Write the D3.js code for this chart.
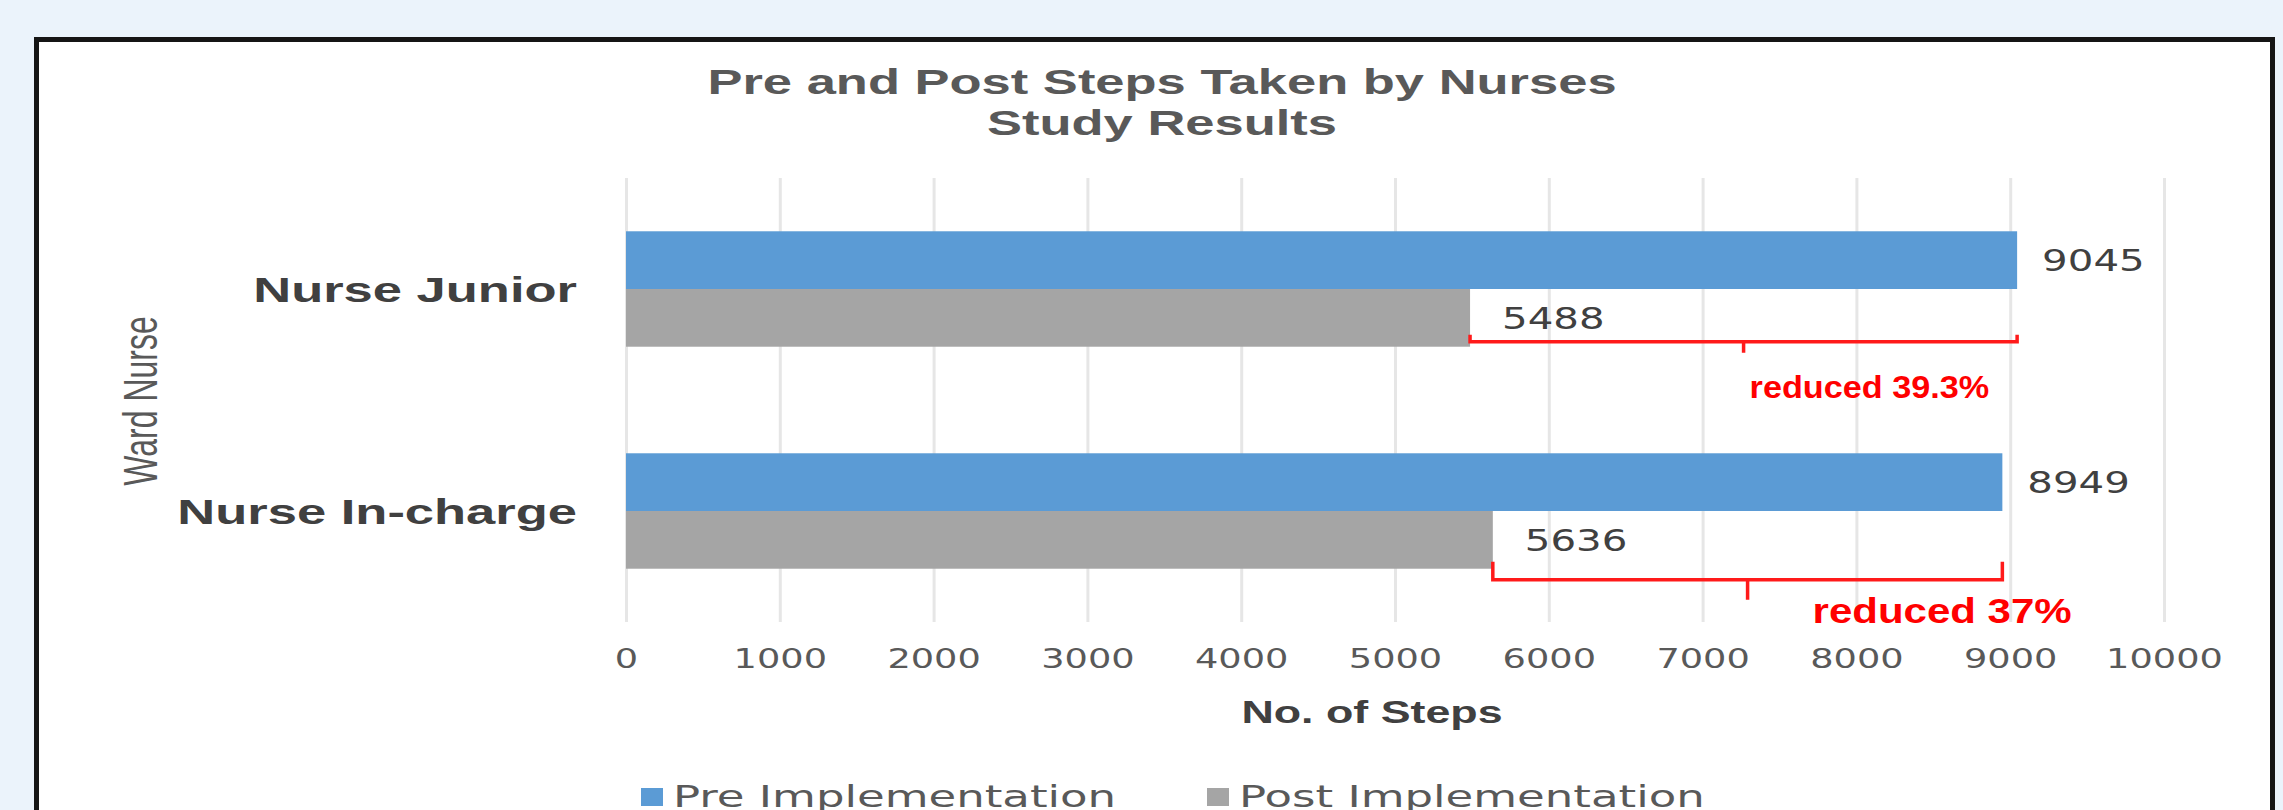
<!DOCTYPE html>
<html>
<head>
<meta charset="utf-8">
<script src="https://cdn.jsdelivr.net/npm/d3@7"></script>
<style>
  html, body { margin: 0; padding: 0; background: #ebf3fb; }
  svg { display: block; }
</style>
</head>
<body>
<svg id="chart" width="2283" height="810"></svg>
<script>
const categories = ['Nurse Junior', 'Nurse In-charge'];
const seriesNames = ['Pre Implementation', 'Post Implementation'];
const preSteps = [9045, 8949];
const postSteps = [5488, 5636];
const xTicks = [0, 1000, 2000, 3000, 4000, 5000, 6000, 7000, 8000, 9000, 10000];
const reductionLabels = ['reduced 39.3%', 'reduced 37%'];
const titleLines = ['Pre and Post Steps Taken by Nurses', 'Study Results'];
const xTitle = 'No. of Steps';
const yTitle = 'Ward Nurse';

// the source image is stretched sideways, so text gets the same stretch
const SX = 1.5;
const colors = ['#5b9bd5', '#a5a5a5'];
const sans = '"Liberation Sans", Arial, sans-serif';
const verd = '"DejaVu Sans", Verdana, sans-serif';

const svg = d3.select('#chart');

function stretched(sel, px, py, sx, extra) {
    return sel.attr('transform', `translate(${px},${py}) scale(${sx || SX},1)` + (extra || ''));
}

// white chart frame, bottom edge is outside the picture
svg.append('rect')
    .attr('x', 36.5).attr('y', 39.5)
    .attr('width', 2236).attr('height', 900)
    .attr('fill', '#ffffff')
    .attr('stroke', '#151515')
    .attr('stroke-width', 5);

const plot = { left: 626, right: 2164, top: 178, bottom: 622 };

const x = d3.scaleLinear().domain([0, 10000]).range([plot.left, plot.right]);
const y = d3.scaleBand().domain(categories)
    .range([plot.top, plot.bottom])
    .paddingInner(0.48).paddingOuter(0.24);
const ySub = d3.scaleBand().domain(seriesNames).range([0, y.bandwidth()]);

// gridlines + tick labels
const xAxis = svg.append('g')
    .attr('transform', `translate(0,${plot.bottom})`)
    .call(d3.axisBottom(x).tickValues(xTicks)
        .tickSize(-(plot.bottom - plot.top))
        .tickFormat(d3.format('d')));
xAxis.select('.domain').remove();
xAxis.selectAll('line').attr('stroke', '#e6e6e6').attr('stroke-width', 3);
xAxis.selectAll('text')
    .attr('y', 36).attr('dy', '0.36em')
    .attr('transform', 'scale(1.36,1)')
    .attr('fill', '#595959')
    .style('font-family', verd).style('font-size', '27px');

// bars
const rows = categories.map((c, i) => ({ category: c, values: [preSteps[i], postSteps[i]] }));

const groups = svg.append('g').selectAll('g')
    .data(rows)
    .join('g')
    .attr('transform', d => `translate(0,${y(d.category)})`);

const cells = d => d.values.map((v, j) => ({ series: seriesNames[j], value: v, j }));
const labelGap = [25, 32];

groups.selectAll('rect')
    .data(cells)
    .join('rect')
    .attr('x', x(0))
    .attr('y', d => ySub(d.series))
    .attr('width', d => x(d.value) - x(0))
    .attr('height', ySub.bandwidth())
    .attr('fill', d => colors[d.j]);

groups.selectAll('text.val')
    .data(cells)
    .join('text')
    .attr('class', 'val')
    .each(function (d) {
        stretched(d3.select(this), x(d.value) + labelGap[d.j], ySub(d.series) + ySub.bandwidth() / 2, 1.3);
    })
    .attr('dy', '0.36em')
    .attr('fill', '#404040')
    .style('font-family', verd).style('font-size', '31px')
    .text(d => d.value);

// category labels
svg.append('g').selectAll('text')
    .data(categories)
    .join('text')
    .each(function (d) {
        stretched(d3.select(this), 577, y(d) + y.bandwidth() / 2);
    })
    .attr('dy', '0.36em')
    .attr('text-anchor', 'end')
    .attr('fill', '#404040')
    .style('font-family', sans).style('font-weight', 'bold').style('font-size', '35px')
    .text(d => d);

// red reduction brackets
const bracketGap = [-5, 11];
const hookLen = [7, 18];
const tickLen = [11, 20];
const noteDx = [6, 65];
const noteDy = [45, 31];
const noteSize = [32, 35];
const noteSX = [1.07, 1.2];

const notes = svg.append('g');
categories.forEach((c, i) => {
    const x1 = x(postSteps[i]);
    const x2 = x(preSteps[i]);
    const mid = (x1 + x2) / 2;
    const by = y(c) + y.bandwidth() + bracketGap[i];
    notes.append('path')
        .attr('d', `M${x1},${by - hookLen[i]}L${x1},${by}L${x2},${by}L${x2},${by - hookLen[i]}M${mid},${by}L${mid},${by + tickLen[i]}`)
        .attr('fill', 'none')
        .attr('stroke', '#ff1a1a')
        .attr('stroke-width', 3.5);
    stretched(notes.append('text'), mid + noteDx[i], by + noteDy[i], noteSX[i])
        .attr('dy', '0.36em')
        .attr('fill', '#ff0000')
        .style('font-family', sans).style('font-weight', 'bold')
        .style('font-size', noteSize[i] + 'px')
        .text(reductionLabels[i]);
});

// titles
svg.append('g').selectAll('text')
    .data(titleLines)
    .join('text')
    .each(function (d, i) {
        stretched(d3.select(this), 1162, 94 + i * 41);
    })
    .attr('text-anchor', 'middle')
    .attr('fill', '#595959')
    .style('font-family', sans).style('font-weight', 'bold').style('font-size', '35px')
    .text(d => d);

stretched(svg.append('text'), 1372, 723, 1.4)
    .attr('text-anchor', 'middle')
    .attr('fill', '#404040')
    .style('font-family', sans).style('font-weight', 'bold').style('font-size', '32px')
    .text(xTitle);

stretched(svg.append('text'), 140, 401, SX, ' rotate(-90)')
    .attr('text-anchor', 'middle')
    .attr('dy', '0.36em')
    .attr('fill', '#595959')
    .style('font-family', sans).style('font-size', '32px')
    .text(yTitle);

// legend
const legendX = [641, 1207];
const legend = svg.append('g').selectAll('g')
    .data(seriesNames)
    .join('g')
    .attr('transform', (d, i) => `translate(${legendX[i]},788)`);
legend.append('rect')
    .attr('width', 22).attr('height', 18)
    .attr('fill', (d, i) => colors[i]);
legend.append('text')
    .attr('transform', `translate(32,19) scale(${SX},1)`)
    .attr('fill', '#595959')
    .style('font-family', verd).style('font-size', '30px')
    .text(d => d);
</script>
</body>
</html>
